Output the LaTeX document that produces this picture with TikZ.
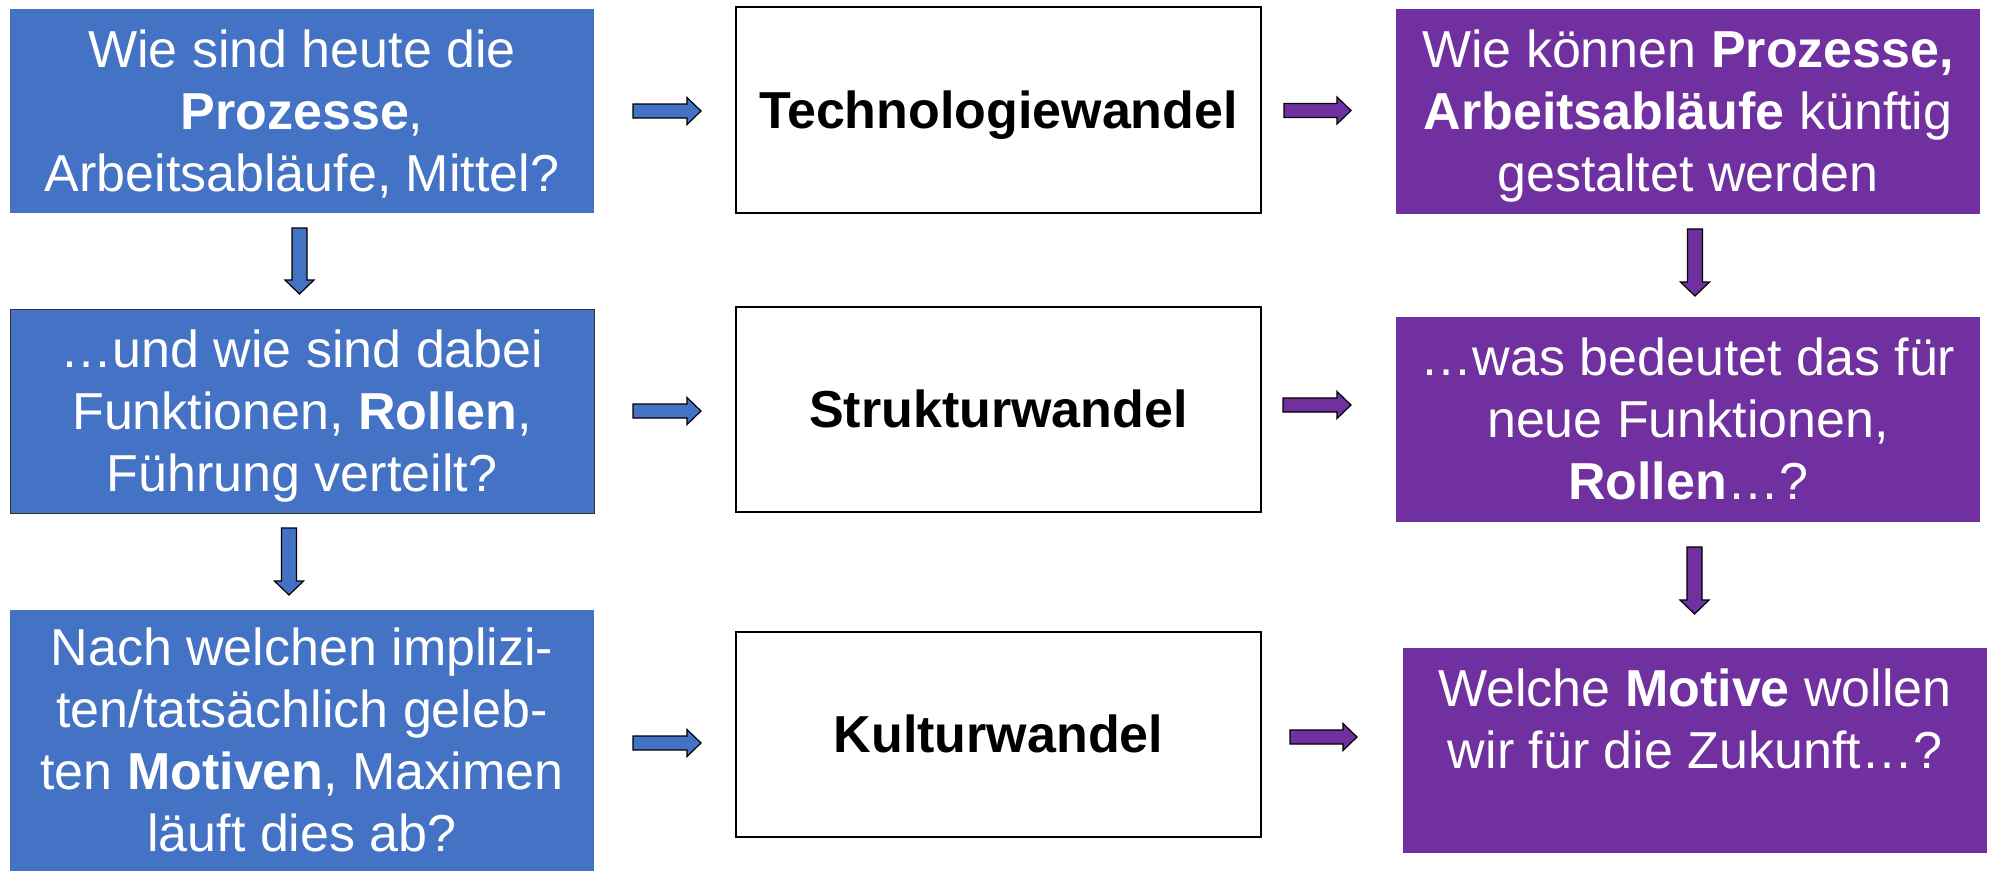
\documentclass[tikz,border=0pt]{standalone}
\usepackage{fontspec}
\setmainfont{Liberation Sans}
\usetikzlibrary{calc}
\definecolor{boxblue}{HTML}{4472C4}
\definecolor{boxpurple}{HTML}{7030A0}
\newcommand\lstrut{\rule[-13pt]{0pt}{62pt}}
\begin{document}
\begin{tikzpicture}[x=1pt,y=-1pt,
  box/.style={rectangle, inner sep=0pt, outer sep=0pt, align=center,
    font=\fontsize{52}{62}\selectfont},
  bluebox/.style={box, fill=boxblue, text=white},
  purplebox/.style={box, fill=boxpurple, text=white},
  wbox/.style={box, draw=black, line width=2.5pt, fill=white,
    font=\fontsize{52}{62}\selectfont\bfseries},
  harr/.style={fill=#1, draw=black, line width=1.2pt, line join=miter,
    to path={($(\tikztostart)+(0,-7)$) -- ($(\tikztotarget|-\tikztostart)+(-14,-7)$)
      -- ($(\tikztotarget|-\tikztostart)+(-14,-13.5)$) -- (\tikztotarget|-\tikztostart)
      -- ($(\tikztotarget|-\tikztostart)+(-14,13.5)$) -- ($(\tikztotarget|-\tikztostart)+(-14,7)$)
      -- ($(\tikztostart)+(0,7)$) -- cycle}},
  varr/.style={fill=#1, draw=black, line width=1.2pt, line join=miter,
    to path={($(\tikztostart)+(-7.5,0)$) -- ($(\tikztostart|-\tikztotarget)+(-7.5,-14)$)
      -- ($(\tikztostart|-\tikztotarget)+(-14.5,-14)$) -- (\tikztostart|-\tikztotarget)
      -- ($(\tikztostart|-\tikztotarget)+(14.5,-14)$) -- ($(\tikztostart|-\tikztotarget)+(7.5,-14)$)
      -- ($(\tikztostart)+(7.5,0)$) -- cycle}}]
\useasboundingbox (0,0) rectangle (1991,871);

% left column
\node[bluebox, minimum width=584pt, minimum height=204pt] (b1) at (302,111)
  {\lstrut Wie sind heute die\\ \lstrut\textbf{Prozesse},\\ \lstrut Arbeitsabläufe, Mittel?};
\node[bluebox, draw=black!80, line width=1pt, minimum width=584pt, minimum height=204pt] (b2) at (302,411)
  {\lstrut …und wie sind dabei\\ \lstrut Funktionen, \textbf{Rollen},\\ \lstrut Führung verteilt?};
\node[bluebox, minimum width=584pt, minimum height=261pt] (b5) at (302,740.5)
  {\lstrut Nach welchen implizi-\\ \lstrut ten/tatsächlich geleb-\\ \lstrut ten \textbf{Motiven}, Maximen\\ \lstrut läuft dies ab?};

% middle column
\node[wbox, minimum width=525pt, minimum height=206pt] (t1) at (998.5,110) {\lstrut Technologiewandel};
\node[wbox, minimum width=525pt, minimum height=205pt] (t2) at (998.5,409.5) {\lstrut Strukturwandel};
\node[wbox, minimum width=525pt, minimum height=205pt] (t3) at (998.5,734.5) {\lstrut Kulturwandel};

% right column
\node[purplebox, minimum width=584pt, minimum height=205pt] (b3) at (1688,111.5)
  {\lstrut Wie können \textbf{Prozesse,}\\ \lstrut\textbf{Arbeitsabläufe} künftig\\ \lstrut gestaltet werden};
\node[purplebox, minimum width=584pt, minimum height=205pt] (b4) at (1688,419.5)
  {\lstrut …was bedeutet das für\\ \lstrut neue Funktionen,\\ \lstrut\textbf{Rollen}…?};
\node[purplebox, minimum width=584pt, minimum height=205pt] (b6) at (1695,750.5)
  {\lstrut Welche \textbf{Motive} wollen\\ \lstrut wir für die Zukunft…?\\ \lstrut};

% arrow end points
\coordinate (h1s) at ($(b1.east)+(39,0)$);
\coordinate (h1e) at ($(t1.west)+(-35,0)$);
\coordinate (h2s) at ($(b2.east)+(39,0)$);
\coordinate (h2e) at ($(t2.west)+(-35,0)$);
\coordinate (h3s) at ($(b5.east)+(39,2.5)$);
\coordinate (h3e) at ($(t3.west)+(-35,0)$);
\coordinate (p1s) at ($(t1.east)+(23,0.5)$);
\coordinate (p1e) at ($(b3.west)+(-45,0)$);
\coordinate (p2s) at ($(t2.east)+(22,-4.5)$);
\coordinate (p2e) at ($(b4.west)+(-45,0)$);
\coordinate (p3s) at ($(t3.east)+(29,2.5)$);
\coordinate (p3e) at ($(b6.west)+(-46,0)$);
\coordinate (v1s) at ($(b1.south)+(-2.5,15)$);
\coordinate (v1e) at ($(b2.north)+(-2.5,-15)$);
\coordinate (v2s) at ($(b2.south)+(-13,15)$);
\coordinate (v2e) at ($(b5.north)+(-13,-15)$);
\coordinate (v3s) at ($(b3.south)+(7,15)$);
\coordinate (v3e) at ($(b4.north)+(7,-21)$);
\coordinate (v4s) at ($(b4.south)+(6.5,25)$);
\coordinate (v4e) at ($(b6.north)+(0,-34)$);

% connectors
\draw[harr=boxblue] (h1s) to (h1e);
\draw[harr=boxblue] (h2s) to (h2e);
\draw[harr=boxblue] (h3s) to (h3e);
\draw[harr=boxpurple] (p1s) to (p1e);
\draw[harr=boxpurple] (p2s) to (p2e);
\draw[harr=boxpurple] (p3s) to (p3e);
\draw[varr=boxblue] (v1s) to (v1e);
\draw[varr=boxblue] (v2s) to (v2e);
\draw[varr=boxpurple] (v3s) to (v3e);
\draw[varr=boxpurple] (v4s) to (v4e);
\end{tikzpicture}
\end{document}
